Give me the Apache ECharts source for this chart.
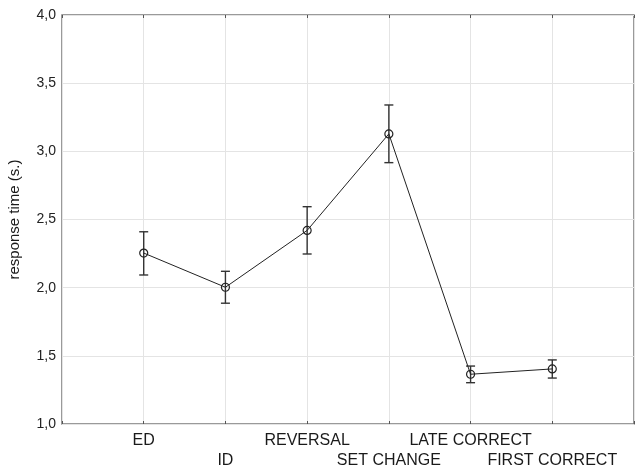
<!DOCTYPE html>
<html>
<head>
<meta charset="utf-8">
<script src="https://cdn.jsdelivr.net/npm/echarts@6/dist/echarts.min.js"></script>
<style>html,body{margin:0;padding:0;background:#fff}#c{width:643px;height:469px}</style>
</head>
<body>
<div id="c"></div>
<script>
var categories = ['ED', 'ID', 'REVERSAL', 'SET CHANGE', 'LATE CORRECT', 'FIRST CORRECT'];
var means = [2.254, 2.003, 2.42, 3.128, 1.365, 1.404];
var upper = [2.41, 2.12, 2.594, 3.34, 1.425, 1.47];
var lower = [2.093, 1.886, 2.247, 2.917, 1.303, 1.337];
var yTicks = [1.0, 1.5, 2.0, 2.5, 3.0, 3.5, 4.0];

var lineData = categories.map(function (c, i) { return [i + 1, means[i]]; });
var errData = categories.map(function (c, i) { return [i + 1, lower[i], upper[i]]; });

var chart = echarts.init(document.getElementById('c'));
var font = 'Liberation Sans, Arial, sans-serif';
chart.setOption({
  animation: false,
  grid: { left: 62, right: 9, top: 15, bottom: 45, show: true, borderColor: '#7a7a7a', borderWidth: 1.5, outerBoundsMode: 'none', containLabel: false },
  xAxis: [{
    type: 'value', min: 0, max: 7, interval: 1,
    axisLine: { show: false },
    axisTick: { show: true, inside: true, length: 3, lineStyle: { color: '#555' } },
    splitLine: { show: true, lineStyle: { color: '#e4e4e4', width: 1 } },
    axisLabel: {
      margin: 7, fontFamily: font, fontSize: 16, color: '#1a1a1a', lineHeight: 20,
      formatter: function (v) {
        var i = Math.round(v) - 1;
        if (i < 0 || i >= categories.length) return '';
        return i % 2 === 0 ? categories[i] + '\n ' : ' \n' + categories[i];
      }
    }
  }, {
    type: 'value', position: 'top', min: 0, max: 7, interval: 1,
    axisLine: { show: false },
    axisTick: { show: true, inside: true, length: 3, lineStyle: { color: '#555' } },
    splitLine: { show: false },
    axisLabel: { show: false }
  }],
  yAxis: {
    type: 'value', min: yTicks[0], max: yTicks[yTicks.length - 1], interval: 0.5,
    name: 'response time (s.)', nameLocation: 'middle', nameGap: 40,
    nameTextStyle: { fontFamily: font, fontSize: 15, color: '#1a1a1a' },
    axisLine: { show: false },
    axisTick: { show: false },
    splitLine: { show: true, lineStyle: { color: '#e4e4e4', width: 1 } },
    axisLabel: {
      margin: 6, fontFamily: font, fontSize: 14, color: '#222',
      formatter: function (v) { return v.toFixed(1).replace('.', ','); }
    }
  },
  series: [{
    type: 'custom',
    data: errData,
    z: 3,
    renderItem: function (params, api) {
      var x = api.value(0);
      var lo = api.coord([x, api.value(1)]);
      var hi = api.coord([x, api.value(2)]);
      var w = 4.5;
      var st = { stroke: '#333', lineWidth: 1.4 };
      return {
        type: 'group',
        children: [
          { type: 'line', shape: { x1: lo[0], y1: lo[1], x2: hi[0], y2: hi[1] }, style: st },
          { type: 'line', shape: { x1: lo[0] - w, y1: lo[1], x2: lo[0] + w, y2: lo[1] }, style: st },
          { type: 'line', shape: { x1: hi[0] - w, y1: hi[1], x2: hi[0] + w, y2: hi[1] }, style: st }
        ]
      };
    }
  }, {
    type: 'line',
    data: lineData,
    z: 4,
    symbol: 'circle', symbolSize: 8,
    lineStyle: { color: '#222', width: 1 },
    itemStyle: { color: 'rgba(255,255,255,0)', borderColor: '#222', borderWidth: 1.2 }
  }]
});
</script>
</body>
</html>
